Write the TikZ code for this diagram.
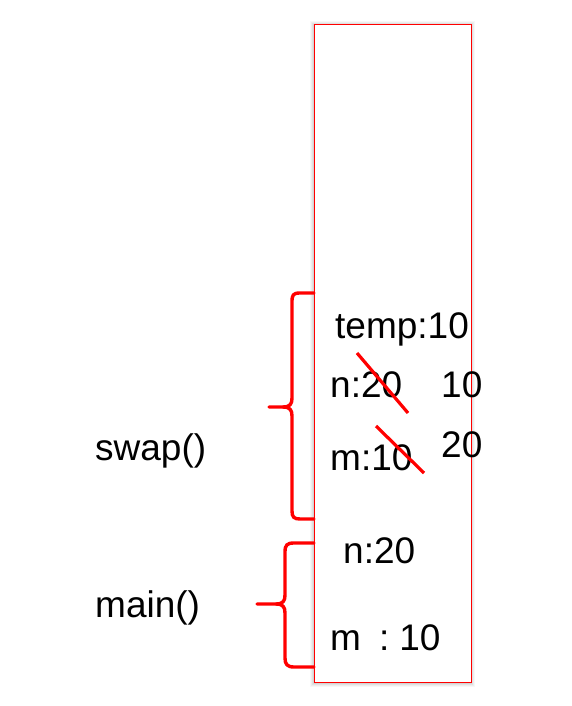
\documentclass[tikz,border=0pt]{standalone}
\usepackage{fontspec}
\setmainfont{Liberation Sans}
\begin{document}
\begin{tikzpicture}[x=1bp,y=-1bp,
  lbl/.style={anchor=base west,inner sep=0pt,font=\fontsize{37bp}{43bp}\selectfont},
  brace/.style={draw=red,line width=3.4bp,line join=round,line cap=round},
  strike/.style={draw=red,line width=3.2bp}]
\useasboundingbox (0,0) rectangle (572,706);
% shadow
\foreach \d/\o in {4/0.03,3/0.04,2/0.05,1/0.06}
  \fill[black,opacity=\o] (314-\d,24-\d+1) rectangle (471+\d,682+\d+1);
\node[draw=red,fill=white,line width=1.2bp,minimum width=157bp,minimum height=658bp,inner sep=0pt,anchor=north west] (stack) at (314,24) {};
% texts
\node[lbl] (temp) at (335,338) {temp:10};
\node[lbl] (n1) at (330,397) {n:20};
\node[lbl] (v10) at (441,397) {10};
\node[lbl] (m1) at (330,470) {m:10};
\node[lbl] (v20) at (441,457) {20};
\node[lbl] (swap) at (95,460) {swap()};
\node[lbl] (n2) at (343,563) {n:20};
\node[lbl] (m2) at (330,650) {m\hspace{18bp}:\hspace{10bp}10};
\node[lbl] (main) at (95,617) {main()};
% strikes
\draw[strike] (357,353) -- (408,413);
\draw[strike] (376,426) -- (424,473);
% braces
\draw[brace] (314,293) -- (300,293) .. controls (293,293) and (292,295) .. (292,302)
  -- (292,398) .. controls (292,404) and (290,407) .. (283,407) -- (269,407);
\draw[brace] (283,407) .. controls (290,407) and (292,410) .. (292,416)
  -- (292,511) .. controls (292,517) and (294,519) .. (300,519) -- (314,519);
\draw[brace] (314,543) -- (294,543) .. controls (287,543) and (285,545) .. (285,552)
  -- (285,595) .. controls (285,601) and (283,604) .. (276,604) -- (257,604);
\draw[brace] (276,604) .. controls (283,604) and (285,607) .. (285,613)
  -- (285,658) .. controls (285,664) and (287,667) .. (294,667) -- (314,667);
\end{tikzpicture}
\end{document}
